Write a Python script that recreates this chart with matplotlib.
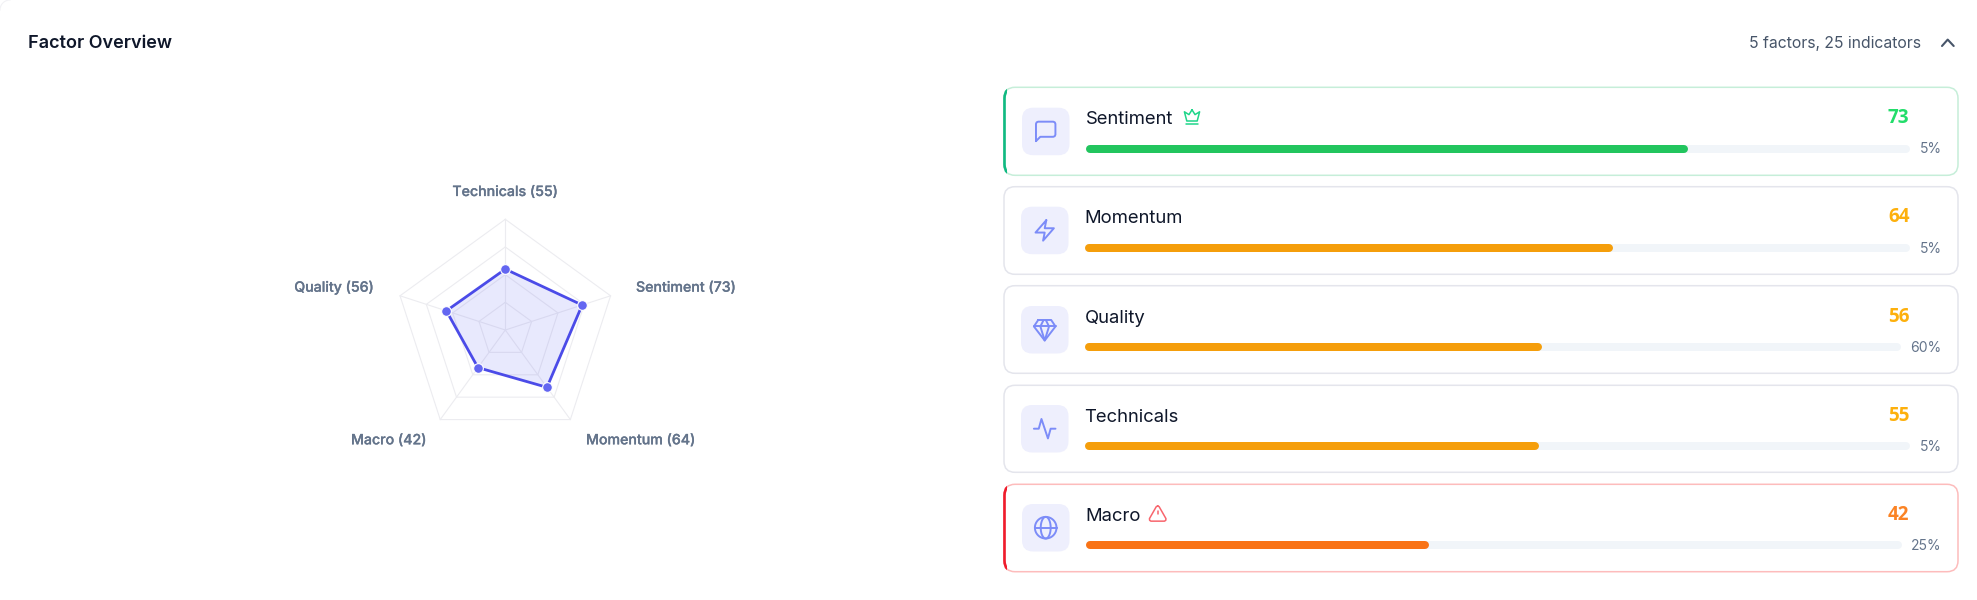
#!/usr/bin/python3

import numpy as np
import matplotlib
matplotlib.use('Agg')
import matplotlib.pyplot as plt
import matplotlib.patheffects as pe
from matplotlib.patches import FancyBboxPatch, Rectangle

W, H = 1977, 600

# factor rows, top to bottom
factor_names = ['Sentiment', 'Momentum', 'Quality', 'Technicals', 'Macro']
factor_scores = [73, 64, 56, 55, 42]
factor_weights = ['5%', '5%', '60%', '5%', '25%']
# spoke order on the radar, clockwise from the top
radar_order = ['Technicals', 'Sentiment', 'Momentum', 'Macro', 'Quality']
radar_rings = [25, 50, 75, 100]

title = 'Factor Overview'
summary = '5 factors, 25 indicators'

# row layout in pixels
card_top = [87.3, 186.7, 285.7, 385.3, 484.3]
card_bottom = [175.3, 274.3, 373.3, 472.3, 571.7]
box_x = [1022, 1021, 1021, 1021, 1022]
box_y = [107.7, 206.7, 306, 405, 504]
track_x0 = [1086, 1084.5, 1084.5, 1084.5, 1086]
track_x1 = [1910, 1910, 1901, 1910, 1901.7]
track_y = [148.7, 247.7, 346.7, 445.7, 545]
name_x = [1086, 1084.5, 1084.5, 1084.5, 1085.5]
name_base = [124.3, 223.3, 322.7, 421.7, 521]
score_base = [123.3, 222.3, 321.7, 421, 520]
weight_base = [153.3, 252.7, 352, 451, 550]
bar_colors = ['#22c55e', '#f59e0b', '#f59e0b', '#f59e0b', '#f97316']
score_colors = ['#22dd6a', '#fdb00d', '#fdb00d', '#fdb00d', '#fb8324']
border_colors = ['#c6eed9', '#e4e5ec', '#e4e5ec', '#e4e5ec', '#fdbcbc']
accent_colors = ['#10b981', None, None, None, '#ef1c2c']

INK = '#0f172a'
SLATE = '#64748b'
ICON = '#7c8cf8'

# icon strokes in a 24 unit box
icon_chat = [[(3, 21), (3, 5), (3.6, 3.6), (5, 3), (19, 3), (20.4, 3.6), (21, 5), (21, 15),
              (20.4, 16.4), (19, 17), (7, 17), (3, 21)]]
icon_zap = [[(13.5, 2.5), (3.5, 14), (12, 14), (10.5, 21.5), (20.5, 10), (12, 10), (13.5, 2.5)]]
icon_gem = [[(6, 3), (18, 3), (22, 9), (12, 22), (2, 9), (6, 3)],
            [(11, 3), (8, 9), (12, 22), (16, 9), (13, 3)],
            [(2, 9), (22, 9)]]
icon_pulse = [[(2, 12), (6.5, 12), (9, 3), (15, 21), (17.5, 12), (22, 12)]]
t = np.linspace(0, 2 * np.pi, 60)
icon_globe = [list(zip(12 + 10 * np.cos(t), 12 + 10 * np.sin(t))),
              list(zip(12 + 4.6 * np.cos(t), 12 + 10 * np.sin(t))),
              [(2, 12), (22, 12)]]
icon_crown = [[(12, 3), (15.8, 9), (21.5, 5.5), (18.5, 17), (5.5, 17), (2.5, 5.5), (8.2, 9), (12, 3)],
              [(5, 21), (19, 21)]]
icon_alert = [[(12, 3), (10.3, 4), (2.3, 18), (2.5, 20), (4, 21), (20, 21), (21.5, 20), (21.7, 18),
               (13.7, 4), (12, 3)],
              [(12, 9), (12, 13)], [(12, 17), (12.01, 17)]]
row_icons = [icon_chat, icon_zap, icon_gem, icon_pulse, icon_globe]


def px_rect(x0, y0, x1, y1):
    return [x0 / W, 1 - y1 / H, (x1 - x0) / W, (y1 - y0) / H]


def draw_icon(ax, strokes, cx, cy, unit, color, lw):
    for s in strokes:
        xs = [cx + (p[0] - 12) * unit for p in s]
        ys = [cy + (p[1] - 12) * unit for p in s]
        ax.plot(xs, ys, color=color, lw=lw, solid_joinstyle='round', solid_capstyle='round', zorder=5)


def rounded(x0, y0, x1, y1, r, **kw):
    return FancyBboxPatch((x0, y0), x1 - x0, y1 - y0,
                          boxstyle='round,pad=0,rounding_size=%g' % r, **kw)


fig = plt.figure(figsize=(W / 100, H / 100), dpi=100, facecolor='white')

page = fig.add_axes([0, 0, 1, 1])
page.set_xlim(0, W)
page.set_ylim(H, 0)
page.axis('off')

# corner of the surrounding panel
a = np.linspace(np.pi, 1.5 * np.pi, 20)
page.plot(10 + 10 * np.cos(a), 10 + 10 * np.sin(a), color='#f2f2f5', lw=0.8)

page.text(28, 48.3, title, fontsize=13, family='Inter', weight='semibold', color=INK)
page.text(1921, 48.3, summary, fontsize=11.35, family='Inter', color='#475569', ha='right')
page.plot([1942, 1947.7, 1953.7], [46, 39.6, 46], color='#475569', lw=1.5,
          solid_capstyle='round', solid_joinstyle='round')

for i, name in enumerate(factor_names):
    page.add_patch(rounded(1004, card_top[i], 1958, card_bottom[i], 11, fc='white',
                           ec=border_colors[i], lw=1.1))
    if accent_colors[i]:
        edge = rounded(1004.5, card_top[i], 1958, card_bottom[i], 11, fc='none',
                       ec=accent_colors[i], lw=1.9, zorder=3)
        page.add_patch(edge)
        edge.set_clip_path(Rectangle((1000, 0), 7, H, transform=page.transData))

    page.add_patch(rounded(box_x[i], box_y[i], box_x[i] + 47.5, box_y[i] + 47.5, 11,
                           fc='#eeeffd', ec='none', zorder=4))
    draw_icon(page, row_icons[i], box_x[i] + 23.7, box_y[i] + 23.7, 1.08, ICON, 1.4)

    page.text(name_x[i], name_base[i], name, fontsize=13.3, family='Inter', color=INK)
    page.text(1909.5, score_base[i], str(factor_scores[i]), fontsize=13.6, family='Open Sans',
              weight='bold', color=score_colors[i], ha='right')
    page.text(1941.5, weight_base[i], factor_weights[i], fontsize=10, family='Inter',
              color=SLATE, ha='right')

    # score bar on a 0-100 axis spanning the track
    bar = fig.add_axes(px_rect(track_x0[i], track_y[i] - 4, track_x1[i], track_y[i] + 4))
    bar.set_xlim(0, 100)
    bar.set_ylim(-1, 1)
    bar.axis('off')
    cap = 4 / (track_x1[i] - track_x0[i]) * 100
    bar.plot([cap, 100 - cap], [0, 0], color='#f1f5f9', lw=5.76, solid_capstyle='round', clip_on=False)
    bar.plot([cap, factor_scores[i] - cap], [0, 0], color=bar_colors[i], lw=5.76,
             solid_capstyle='round', clip_on=False)

draw_icon(page, icon_crown, 1192, 117, 0.8, '#1fd68a', 1.1)
draw_icon(page, icon_alert, 1157.7, 513.5, 0.85, '#f8656d', 1.1)

# radar
cx, cy, rad = 505.3, 330, 110.7
radar = fig.add_axes(px_rect(cx - rad, cy - rad, cx + rad, cy + rad), projection='polar')
radar.set_theta_zero_location('N')
radar.set_theta_direction(-1)
radar.set_ylim(0, 100)
radar.patch.set_alpha(0)
radar.axis('off')

angles = np.arange(len(radar_order)) * 2 * np.pi / len(radar_order)
closed = np.append(angles, angles[0])
radar_values = [factor_scores[factor_names.index(n)] for n in radar_order]
radar_closed = radar_values + radar_values[:1]

for ring in radar_rings:
    radar.plot(closed, [ring] * len(closed), color='#ececf0', lw=0.8, clip_on=False, zorder=1)
for ang in angles:
    radar.plot([ang, ang], [0, radar_rings[-1]], color='#ececf0', lw=0.8, clip_on=False, zorder=1)

radar.fill(closed, radar_closed, color='#6366f1', alpha=0.14, lw=0, zorder=2)
radar.plot(closed, radar_closed, color='#4b4be8', lw=2.0, solid_joinstyle='round', zorder=3)
radar.plot(angles, radar_values, ls='none', marker='o', ms=7, mfc='#6366f1', mec='white',
           mew=0.8, clip_on=False, zorder=4)

label_x = [505, 636, 586, 351, 294.3]
label_ha = ['center', 'left', 'left', 'left', 'left']
label_base = [196, 291.7, 444.3, 444.3, 291.7]
for i, n in enumerate(radar_order):
    page.text(label_x[i], label_base[i], '%s (%d)' % (n, radar_values[i]), fontsize=10.2,
              family='Inter', weight='medium', color=SLATE, ha=label_ha[i],
              path_effects=[pe.withStroke(linewidth=0.2, foreground=SLATE)])

plt.savefig('out.png', dpi=100, facecolor='white')
